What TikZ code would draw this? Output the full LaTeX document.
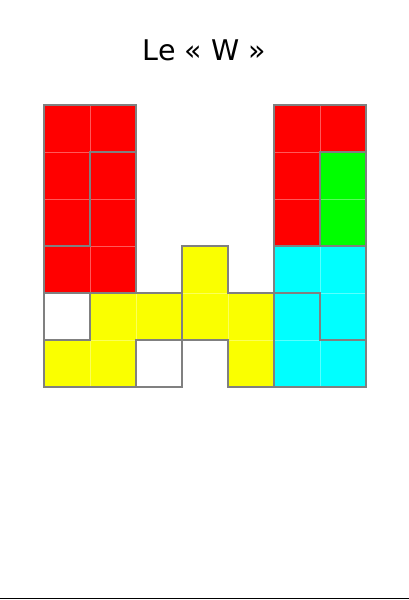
\documentclass[tikz,border=0pt]{standalone}
\usepackage{fontspec}
\setmainfont{DejaVu Sans}

\begin{document}
\begin{tikzpicture}[
  x=1pt, y=-1pt,
  cell/.style={
    draw=white,
    draw opacity=0.35,
    line width=0.6pt
  },
  piece/.style={
    draw=black!50,
    line width=1.4pt,
    line join=miter
  },
  titlelabel/.style={
    font=\fontsize{28.5}{34}\selectfont,
    inner sep=0pt
  }
]

\definecolor{Rcol}{RGB}{255,0,0}
\definecolor{Gcol}{RGB}{0,255,0}
\definecolor{Ycol}{RGB}{250,255,0}
\definecolor{Ccol}{RGB}{0,255,255}

\useasboundingbox (0,0) rectangle (409,600);

\node[titlelabel] (title) at (204.5,50) {Le « W »};

\draw[line width=1.4pt] (0,598.5) -- (409,598.5);

\begin{scope}[shift={(44,105)}, x=46pt, y=-47pt]
  % cells
  \foreach \c/\r/\col in {0/0/Rcol, 1/0/Rcol, 5/0/Rcol, 6/0/Rcol,
                          0/1/Rcol, 1/1/Rcol, 5/1/Rcol, 6/1/Gcol,
                          0/2/Rcol, 1/2/Rcol, 5/2/Rcol, 6/2/Gcol,
                          0/3/Rcol, 1/3/Rcol, 3/3/Ycol, 5/3/Ccol, 6/3/Ccol,
                          1/4/Ycol, 2/4/Ycol, 3/4/Ycol, 4/4/Ycol, 5/4/Ccol, 6/4/Ccol,
                          0/5/Ycol, 1/5/Ycol, 4/5/Ycol, 5/5/Ccol, 6/5/Ccol}
    \filldraw[cell, fill=\col] (\c,\r) rectangle ++(1,1);

  % pieces
  \draw[piece] (0,0) -- (2,0) -- (2,1) -- (1,1) -- (1,3) -- (0,3) -- cycle;
  \draw[piece] (1,1) -- (2,1) -- (2,4) -- (0,4) -- (0,3) -- (1,3) -- cycle;
  \draw[piece] (5,0) -- (7,0) -- (7,1) -- (6,1) -- (6,3) -- (5,3) -- cycle;
  \draw[piece] (6,1) rectangle (7,3);
  \draw[piece] (5,3) -- (7,3) -- (7,5) -- (6,5) -- (6,4) -- (5,4) -- cycle;
  \draw[piece] (5,4) -- (6,4) -- (6,5) -- (7,5) -- (7,6) -- (5,6) -- cycle;
  \draw[piece] (1,4) -- (3,4) -- (3,5) -- (2,5) -- (2,6) -- (0,6) -- (0,5) -- (1,5) -- cycle;
  \draw[piece] (3,3) -- (4,3) -- (4,4) -- (5,4) -- (5,6) -- (4,6) -- (4,5) -- (3,5) -- cycle;

  % empty squares
  \draw[piece] (0,4) rectangle (1,5);
  \draw[piece] (2,5) rectangle (3,6);
\end{scope}

\end{tikzpicture}
\end{document}
